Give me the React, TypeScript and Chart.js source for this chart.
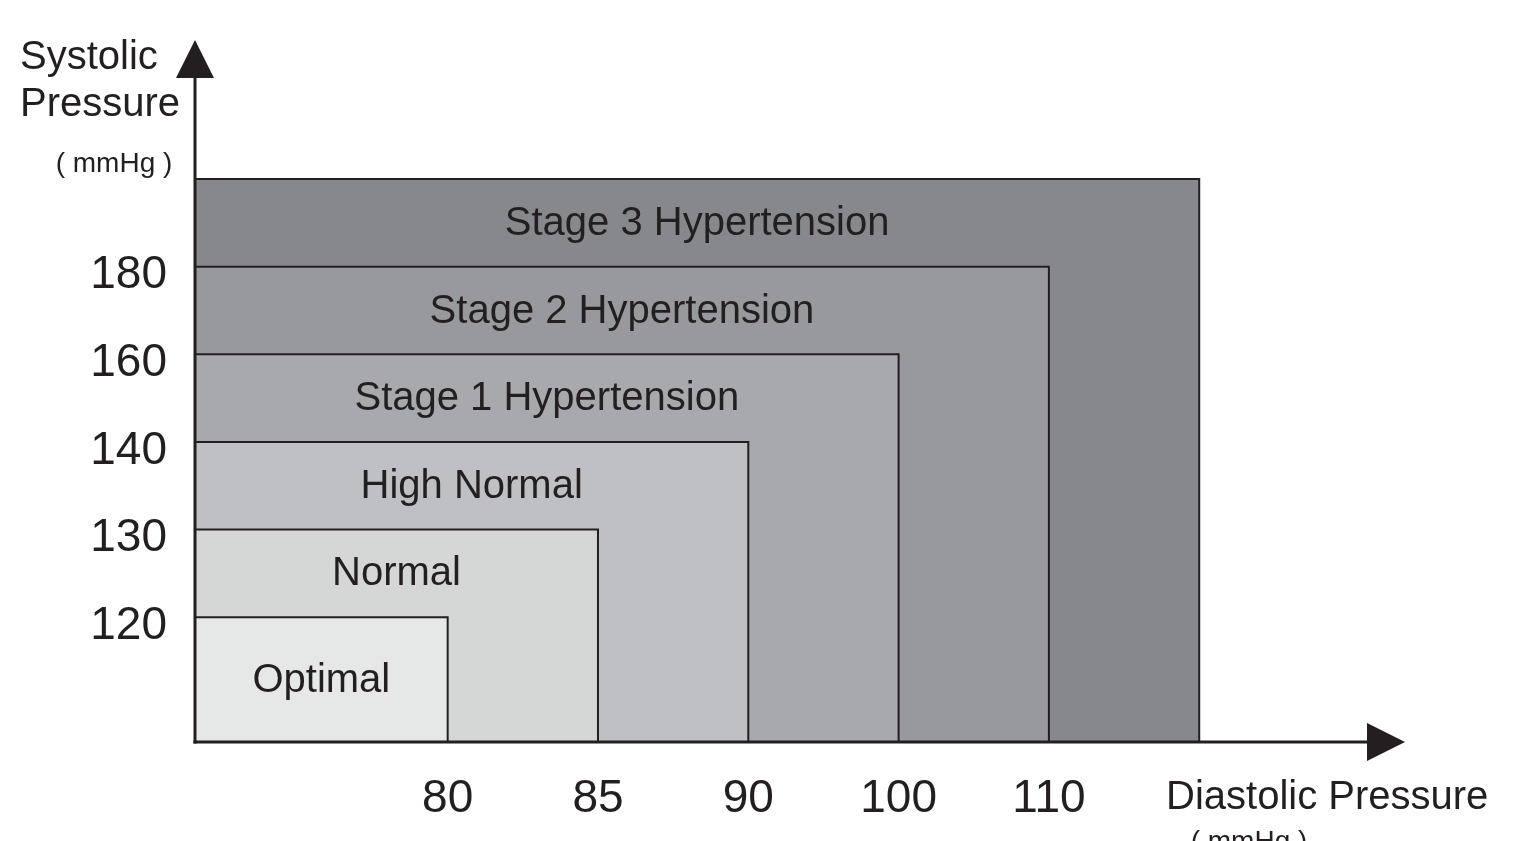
import React, { useEffect, useRef } from 'react';
import { Chart, registerables } from 'chart.js';

Chart.register(...registerables);

// ---- data ----
const DIASTOLIC_TICKS = [80, 85, 90, 100, 110];
const SYSTOLIC_TICKS = [120, 130, 140, 160, 180];
const CATEGORIES = [
  'Optimal',
  'Normal',
  'High Normal',
  'Stage 1 Hypertension',
  'Stage 2 Hypertension',
  'Stage 3 Hypertension',
];
// category k reaches slot k on both axes (slots are the tick thresholds, drawn evenly spaced)
const CATEGORY_SLOT = [0, 1, 2, 3, 4, 5];

// ---- styles / layout ----
const COLORS = ['#e6e7e7', '#d5d6d6', '#bfc0c3', '#a7a9ac', '#98999d', '#87888c'];
const INK = '#231f20';
const FONT = "'Liberation Sans', Arial, Helvetica, sans-serif";
const X_MIN = -1.681;
const X_MAX = 6.369;
const Y_MIN = -1.424;
const Y_MAX = 6.587;

const overlay = {
  id: 'overlay',
  afterDatasetsDraw(chart: any) {
    const { ctx, scales } = chart;
    const xs = scales.x;
    const ys = scales.y;
    ctx.save();
    ctx.fillStyle = INK;
    ctx.font = `40px ${FONT}`;
    ctx.textAlign = 'center';
    ctx.textBaseline = 'middle';
    CATEGORIES.forEach((name, k) => {
      const s = CATEGORY_SLOT[k];
      const x0 = xs.getPixelForValue(X_MIN);
      const x1 = xs.getPixelForValue(s);
      const yTop = ys.getPixelForValue(s);
      const yBot = ys.getPixelForValue(k === 0 ? Y_MIN : CATEGORY_SLOT[k - 1]);
      ctx.fillText(name, (x0 + x1) / 2, (yTop + yBot) / 2 + 1);
    });
    ctx.restore();
  },
  afterDraw(chart: any) {
    const { ctx, chartArea } = chart;
    const { left, right, top, bottom } = chartArea;
    ctx.save();
    ctx.strokeStyle = INK;
    ctx.fillStyle = INK;
    ctx.lineWidth = 3;
    // y axis
    ctx.beginPath();
    ctx.moveTo(left, bottom + 1.5);
    ctx.lineTo(left, top + 36);
    ctx.stroke();
    ctx.beginPath();
    ctx.moveTo(left, top);
    ctx.lineTo(left - 19, top + 38);
    ctx.lineTo(left + 19, top + 38);
    ctx.closePath();
    ctx.fill();
    // x axis
    ctx.beginPath();
    ctx.moveTo(left - 1.5, bottom);
    ctx.lineTo(right - 36, bottom);
    ctx.stroke();
    ctx.beginPath();
    ctx.moveTo(right, bottom);
    ctx.lineTo(right - 38, bottom - 19);
    ctx.lineTo(right - 38, bottom + 19);
    ctx.closePath();
    ctx.fill();

    // axis titles
    ctx.textAlign = 'left';
    ctx.textBaseline = 'alphabetic';
    ctx.font = `40px ${FONT}`;
    ctx.fillText('Systolic', 20, 69);
    ctx.fillText('Pressure', 20, 116);
    ctx.fillText('Diastolic Pressure', 1166, 809);
    ctx.font = `28px ${FONT}`;
    ctx.textAlign = 'center';
    ctx.textBaseline = 'middle';
    ctx.fillText('( mmHg )', 114, 164);
    ctx.textBaseline = 'alphabetic';
    ctx.fillText('( mmHg )', 1249, 850);
    ctx.restore();
  },
};

export default function App() {
  const ref = useRef<HTMLCanvasElement>(null);
  useEffect(() => {
    document.body.style.margin = '0';
    const datasets = CATEGORIES.map((name, k) => ({
      label: name,
      data: [
        { x: X_MIN, y: CATEGORY_SLOT[k] },
        { x: CATEGORY_SLOT[k], y: CATEGORY_SLOT[k] },
        { x: CATEGORY_SLOT[k], y: Y_MIN },
      ],
      backgroundColor: COLORS[k],
      borderColor: INK,
      borderWidth: 2,
      pointRadius: 0,
      pointHoverRadius: 0,
      fill: 'start',
      tension: 0,
    }));
    const chart = new Chart(ref.current as HTMLCanvasElement, {
      type: 'line',
      data: { datasets } as any,
      options: {
        responsive: true,
        maintainAspectRatio: false,
        animation: false,
        layout: { padding: { top: 40, right: 108, left: 0, bottom: 0 } },
        plugins: { legend: { display: false }, tooltip: { enabled: false } },
        scales: {
          x: {
            type: 'linear',
            min: X_MIN,
            max: X_MAX,
            grid: { display: false, drawTicks: false },
            border: { display: false },
            afterBuildTicks: (s: any) => {
              s.ticks = DIASTOLIC_TICKS.map((_, i) => ({ value: i }));
            },
            afterFit: (s: any) => {
              s.height = 99;
              s.paddingLeft = 0;
              s.paddingRight = 0;
            },
            ticks: {
              autoSkip: false,
              maxRotation: 0,
              padding: 30,
              color: INK,
              font: { family: FONT, size: 46 },
              callback: (v: any) => (DIASTOLIC_TICKS[v] !== undefined ? String(DIASTOLIC_TICKS[v]) : ''),
            },
          },
          y: {
            type: 'linear',
            min: Y_MIN,
            max: Y_MAX,
            grid: { display: false, drawTicks: false },
            border: { display: false },
            afterBuildTicks: (s: any) => {
              s.ticks = SYSTOLIC_TICKS.map((_, i) => ({ value: i }));
            },
            afterFit: (s: any) => {
              s.width = 195;
              s.paddingTop = 0;
              s.paddingBottom = 0;
            },
            ticks: {
              autoSkip: false,
              padding: 28,
              labelOffset: 9,
              color: INK,
              font: { family: FONT, size: 46 },
              callback: (v: any) => (SYSTOLIC_TICKS[v] !== undefined ? String(SYSTOLIC_TICKS[v]) : ''),
            },
          },
        },
      } as any,
      plugins: [overlay],
    });
    return () => chart.destroy();
  }, []);
  return (
    <div style={{ position: 'absolute', left: 0, top: 0, width: 1513, height: 841 }}>
      <canvas ref={ref} />
    </div>
  );
}
